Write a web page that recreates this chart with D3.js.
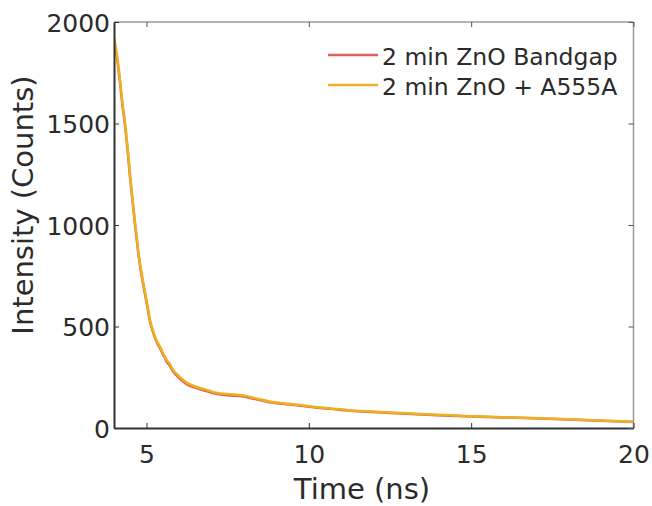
<!DOCTYPE html>
<html>
<head>
<meta charset="utf-8">
<script src="https://cdn.jsdelivr.net/npm/d3@7"></script>
<style>
  body { margin: 0; background: #fff; }
</style>
</head>
<body>
<div id="chart"></div>
<script>
// ---------------- DATA ----------------
var seriesNames = ['2 min ZnO Bandgap', '2 min ZnO + A555A'];

var timeNs = [4.00, 4.05, 4.10, 4.185, 4.26, 4.34, 4.42, 4.49, 4.57, 4.65, 4.72, 4.80, 4.88, 4.96,
  5.04, 5.11, 5.20, 5.30, 5.42, 5.52, 5.57, 5.62, 5.70, 5.82, 5.94, 6.10, 6.25, 6.45, 6.65, 6.90,
  7.18, 7.50, 7.98, 8.19, 8.45, 8.72, 9.20, 9.73, 10.20, 10.75, 11.20, 11.80, 12.50, 13.30, 14.14,
  15.00, 16.00, 16.90, 18.00, 19.00, 20.00];

var bandgapCounts = [1912, 1866, 1812, 1700, 1588, 1490, 1366, 1242, 1118, 997, 898, 802, 724, 655,
  586, 524, 472, 428, 392, 358, 346, 327, 311, 278, 257, 233, 215, 201, 191, 179,
  167, 161, 155, 148, 139, 129, 119, 110, 101, 93, 86, 80, 74, 68, 62,
  57, 52, 48, 42, 36, 30];

var a555aCounts = [1925, 1880, 1830, 1714, 1600, 1502, 1380, 1256, 1130, 1010, 910, 813, 735, 665,
  595, 532, 480, 435, 400, 365, 352, 335, 320, 286, 265, 240, 222, 208, 197, 185,
  172, 167, 160, 153, 143, 133, 122, 113, 104, 95, 88, 82, 76, 70, 64,
  58, 53, 49, 43, 37, 31];

var xTicks = [5, 10, 15, 20];
var yTicks = [0, 500, 1000, 1500, 2000];

// ---------------- ATTRS ----------------
var attrs = {
  svgWidth: 652,
  svgHeight: 506,
  plotLeft: 114,
  plotRight: 633.5,
  plotTop: 22,
  plotBottom: 428,
  font: '"DejaVu Sans", Verdana, sans-serif',
  textFill: '#2b2b2b',
  colors: ['#e0605c', '#edb120']
};

var svg = d3.select('#chart').append('svg')
  .attr('width', attrs.svgWidth)
  .attr('height', attrs.svgHeight)
  .attr('font-family', attrs.font);

var x = d3.scaleLinear().domain([4, 20]).range([attrs.plotLeft, attrs.plotRight]);
var y = d3.scaleLinear().domain([0, 2000]).range([attrs.plotBottom, attrs.plotTop]);

// clip
svg.append('clipPath').attr('id', 'plot-clip')
  .append('rect')
  .attr('x', attrs.plotLeft).attr('y', attrs.plotTop)
  .attr('width', attrs.plotRight - attrs.plotLeft)
  .attr('height', attrs.plotBottom - attrs.plotTop);

// lines
var line = d3.line()
  .x(function (d) { return x(d[0]); })
  .y(function (d) { return y(d[1]); })
  .curve(d3.curveMonotoneX);

var series = [bandgapCounts, a555aCounts].map(function (vals) {
  return timeNs.map(function (t, i) { return [t, vals[i]]; });
});

svg.append('g').attr('clip-path', 'url(#plot-clip)')
  .selectAll('path.series')
  .data(series)
  .enter().append('path')
  .attr('class', 'series')
  .attr('d', line)
  .attr('fill', 'none')
  .attr('stroke', function (d, i) { return attrs.colors[i]; })
  .attr('stroke-width', 2.5)
  .attr('stroke-linejoin', 'round');

// box: top/right lighter
var box = svg.append('g');
box.append('line')
  .attr('x1', attrs.plotLeft).attr('x2', attrs.plotRight)
  .attr('y1', attrs.plotTop).attr('y2', attrs.plotTop)
  .attr('stroke', '#9a9a9a').attr('stroke-width', 1.5);
box.append('line')
  .attr('x1', attrs.plotRight).attr('x2', attrs.plotRight)
  .attr('y1', attrs.plotTop).attr('y2', attrs.plotBottom)
  .attr('stroke', '#9a9a9a').attr('stroke-width', 1.5);

// axes (ticks inward)
var fmt = d3.format('d');

var xAxis = svg.append('g')
  .attr('transform', 'translate(0,' + attrs.plotBottom + ')')
  .call(d3.axisBottom(x).tickValues(xTicks).tickFormat(fmt).tickSizeInner(-5).tickSizeOuter(0));

var xTop = svg.append('g')
  .attr('transform', 'translate(0,' + attrs.plotTop + ')')
  .call(d3.axisTop(x).tickValues(xTicks).tickSizeInner(-5).tickSizeOuter(0).tickFormat(''));

var yAxis = svg.append('g')
  .attr('transform', 'translate(' + attrs.plotLeft + ',0)')
  .call(d3.axisLeft(y).tickValues(yTicks).tickFormat(fmt).tickSizeInner(-5).tickSizeOuter(0).tickPadding(4));

var yRight = svg.append('g')
  .attr('transform', 'translate(' + attrs.plotRight + ',0)')
  .call(d3.axisRight(y).tickValues(yTicks).tickSizeInner(-5).tickSizeOuter(0).tickFormat(''));

[xTop, yRight].forEach(function (g) {
  g.select('.domain').remove();
  g.selectAll('.tick line').attr('stroke', '#555').attr('stroke-width', 1);
});

[xAxis, yAxis].forEach(function (g) {
  g.select('.domain').attr('stroke', '#333').attr('stroke-width', 2);
  g.selectAll('.tick line').attr('stroke', '#333').attr('stroke-width', 1);
  g.selectAll('.tick text')
    .attr('fill', attrs.textFill)
    .attr('font-size', 25)
    .attr('font-family', attrs.font);
});

xAxis.selectAll('.tick text').attr('dy', 0).attr('y', 35);
yAxis.selectAll('.tick text').attr('dy', '0.37em');

// axis labels
svg.append('text')
  .attr('x', 362)
  .attr('y', 499)
  .attr('text-anchor', 'middle')
  .attr('font-size', 29)
  .attr('fill', attrs.textFill)
  .text('Time (ns)');

svg.append('text')
  .attr('transform', 'translate(33,205) rotate(-90)')
  .attr('text-anchor', 'middle')
  .attr('font-size', 29)
  .attr('fill', attrs.textFill)
  .text('Intensity (Counts)');

// legend
var legend = svg.append('g').attr('class', 'legend');
var legendItems = legend.selectAll('g.item')
  .data(seriesNames)
  .enter().append('g')
  .attr('class', 'item')
  .attr('transform', function (d, i) { return 'translate(0,' + (55 + i * 30) + ')'; });

legendItems.append('line')
  .attr('x1', 328).attr('x2', 378)
  .attr('y1', 0).attr('y2', 0)
  .attr('stroke', function (d, i) { return attrs.colors[i]; })
  .attr('stroke-width', 2.5);

legendItems.append('text')
  .attr('x', 382)
  .attr('y', 10)
  .attr('font-size', 23.5)
  .attr('fill', attrs.textFill)
  .text(function (d) { return d; });
</script>
</body>
</html>
